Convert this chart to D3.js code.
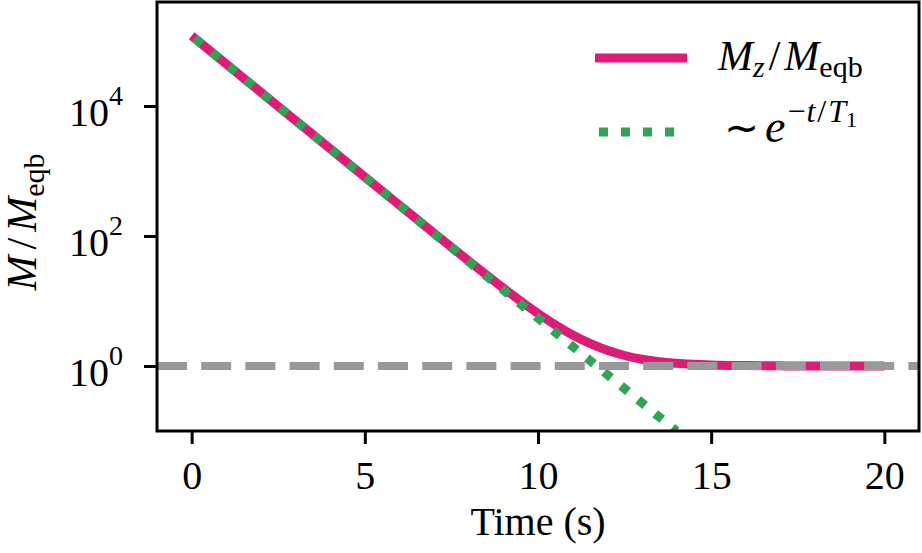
<!DOCTYPE html>
<html>
<head>
<meta charset="utf-8">
<script src="https://cdn.jsdelivr.net/npm/d3@7"></script>
<style>
  body { margin: 0; background: #fff; }
  text { font-family: "Liberation Serif", "Times New Roman", serif; fill: #000; }
</style>
</head>
<body>
<div id="chart"></div>
<script>
// Data (time in s, magnetisation ratio)
const timeS   = [0, 1, 2, 3, 4, 5, 6, 7, 8, 9, 9.5, 10, 10.5, 11, 11.5, 12, 12.5, 13, 13.5, 14, 15, 16, 17, 18, 19, 20];
const mzRatio = [120000, 44150, 16240, 5976, 2199, 810, 298.5, 110.4, 41.3, 15.8, 9.98, 6.45, 4.30, 3.00, 2.22, 1.74, 1.45, 1.27, 1.16, 1.10, 1.037, 1.014, 1.005, 1.002, 1.001, 1.000];
const fitTime  = [0, 1, 2, 3, 4, 5, 6, 7, 8, 9, 10, 11, 12, 13, 14];
const fitRatio = [120000, 44150, 16240, 5975, 2198, 809, 297.5, 109.4, 40.3, 14.8, 5.45, 2.00, 0.737, 0.271, 0.0998];
const eqbLevel = 1;
const xTicks = [0, 5, 10, 15, 20];
const yTickExps = [0, 2, 4];

const width = 922, height = 553;
const plot = { left: 157, right: 919, top: 2, bottom: 431 };

const svg = d3.select("#chart")
    .append("svg")
    .attr("width", width)
    .attr("height", height);

const x = d3.scaleLinear().domain([-1, 21]).range([plot.left, plot.right]);
const y = d3.scaleLog().domain([0.1, Math.pow(10, 5.6)]).range([plot.bottom, plot.top]);

svg.append("clipPath").attr("id", "clip")
    .append("rect")
    .attr("x", plot.left).attr("y", plot.top)
    .attr("width", plot.right - plot.left).attr("height", plot.bottom - plot.top);

const line = d3.line()
    .x(d => x(d[0]))
    .y(d => y(d[1]))
    .curve(d3.curveMonotoneX);

const body = svg.append("g").attr("clip-path", "url(#clip)");

// Mz / Meqb curve
body.append("path")
    .datum(timeS.map((t, i) => [t, mzRatio[i]]))
    .attr("d", line)
    .attr("fill", "none")
    .attr("stroke", "#dd1c77")
    .attr("stroke-width", 9);

// exponential fit, dotted
body.append("path")
    .datum(fitTime.map((t, i) => [t, fitRatio[i]]))
    .attr("d", line)
    .attr("fill", "none")
    .attr("stroke", "#31a354")
    .attr("stroke-width", 9)
    .attr("stroke-dasharray", "9,13")
    .attr("stroke-dashoffset", 18);

// equilibrium level
body.append("line")
    .attr("x1", plot.left).attr("x2", plot.right)
    .attr("y1", y(eqbLevel)).attr("y2", y(eqbLevel))
    .attr("stroke", "#999999")
    .attr("stroke-width", 8)
    .attr("stroke-dasharray", "30,14.2");

// x axis
const xAxis = svg.append("g")
    .attr("transform", `translate(0,${plot.bottom})`)
    .call(d3.axisBottom(x).tickValues(xTicks).tickSize(13).tickFormat(d3.format("d")));
xAxis.select(".domain").remove();
xAxis.selectAll(".tick line").attr("stroke", "#000").attr("stroke-width", 3);
xAxis.selectAll(".tick text")
    .attr("y", 58).attr("dy", null)
    .attr("font-size", 40)
    .attr("font-family", "Liberation Serif");

// y axis with power-of-ten labels
const yAxis = svg.append("g")
    .attr("transform", `translate(${plot.left},0)`)
    .call(d3.axisLeft(y).tickValues(yTickExps.map(e => Math.pow(10, e))).tickSize(13).tickFormat(""));
yAxis.select(".domain").remove();
yAxis.selectAll(".tick line").attr("stroke", "#000").attr("stroke-width", 3);
yAxis.selectAll(".tick").each(function(d) {
  const t = d3.select(this).select("text")
      .attr("x", -34).attr("dy", null).attr("y", 19)
      .attr("text-anchor", "end")
      .attr("font-size", 40)
      .attr("font-family", "Liberation Serif");
  t.text(null);
  t.append("tspan").text("10");
  t.append("tspan").attr("dy", -21).attr("font-size", 28).text(Math.round(Math.log10(d)));
});

// frame
svg.append("rect")
    .attr("x", plot.left).attr("y", plot.top)
    .attr("width", plot.right - plot.left).attr("height", plot.bottom - plot.top)
    .attr("fill", "none").attr("stroke", "#000").attr("stroke-width", 3);

// axis labels
svg.append("text")
    .attr("x", (plot.left + plot.right) / 2).attr("y", 535)
    .attr("text-anchor", "middle")
    .attr("font-size", 40)
    .text("Time (s)");

const yl = svg.append("text")
    .attr("transform", "translate(36,222) rotate(-90)")
    .attr("text-anchor", "middle")
    .attr("font-size", 42);
yl.append("tspan").attr("font-style", "italic").text("M");
yl.append("tspan").attr("dx", 6).text("/");
yl.append("tspan").attr("dx", 6).attr("font-style", "italic").text("M");
yl.append("tspan").attr("font-size", 30).attr("dy", 8).text("eqb");

// legend
const leg = svg.append("g");
leg.append("line")
    .attr("x1", 595).attr("x2", 687).attr("y1", 58).attr("y2", 58)
    .attr("stroke", "#dd1c77").attr("stroke-width", 9);
leg.append("line")
    .attr("x1", 595).attr("x2", 687).attr("y1", 132).attr("y2", 132)
    .attr("stroke", "#31a354").attr("stroke-width", 9)
    .attr("stroke-dasharray", "9,13").attr("stroke-dashoffset", 18);

const l1 = leg.append("text").attr("x", 718).attr("y", 70).attr("font-size", 42);
l1.append("tspan").attr("font-style", "italic").text("M");
l1.append("tspan").attr("font-style", "italic").attr("font-size", 30).attr("dy", 7).text("z");
l1.append("tspan").attr("dx", 4).attr("dy", -7).text("/");
l1.append("tspan").attr("dx", 4).attr("font-style", "italic").text("M");
l1.append("tspan").attr("font-size", 30).attr("dy", 7).text("eqb");

const l2 = leg.append("text").attr("x", 724).attr("y", 142).attr("font-size", 42);
l2.append("tspan").text("\u223C");
l2.append("tspan").attr("font-style", "italic").attr("font-size", 46).attr("dx", 6).text("e");
l2.append("tspan").attr("font-size", 32).attr("dx", 2).attr("dy", -20).text("\u2212");
l2.append("tspan").attr("font-style", "italic").attr("font-size", 32).attr("dx", 1).text("t");
l2.append("tspan").attr("font-size", 32).attr("dx", 2).text("/");
l2.append("tspan").attr("font-style", "italic").attr("font-size", 32).attr("dx", 2).text("T");
l2.append("tspan").attr("font-size", 22).attr("dy", 5).text("1");
</script>
</body>
</html>
